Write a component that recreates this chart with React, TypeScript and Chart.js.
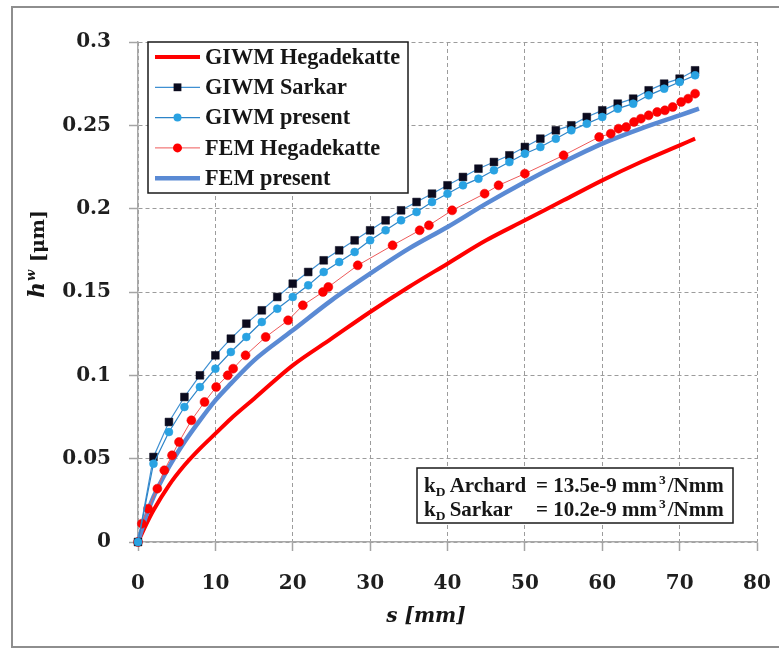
import React, { useEffect, useRef } from 'react';
import { Chart, registerables } from 'chart.js';

Chart.register(...registerables);

// ---------- data ----------
const giwmHegS = [0, 1, 2, 4, 6, 8, 10, 12, 15, 20, 25, 30, 35, 40, 45, 50, 55, 60, 65, 70, 72];
const giwmHegH = [0, 0.010, 0.019, 0.034, 0.046, 0.056, 0.065, 0.074, 0.086, 0.106, 0.122, 0.138, 0.153, 0.167, 0.181, 0.193, 0.205, 0.217, 0.228, 0.238, 0.242];

const giwmSarkarS = [0, 2, 4, 6, 8, 10, 12, 14, 16, 18, 20, 22, 24, 26, 28, 30, 32, 34, 36, 38, 40, 42, 44, 46, 48, 50, 52, 54, 56, 58, 60, 62, 64, 66, 68, 70, 72];
const giwmSarkarH = [0, 0.051, 0.072, 0.087, 0.100, 0.112, 0.122, 0.131, 0.139, 0.147, 0.155, 0.162, 0.169, 0.175, 0.181, 0.187, 0.193, 0.199, 0.204, 0.209, 0.214, 0.219, 0.224, 0.228, 0.232, 0.237, 0.242, 0.247, 0.250, 0.255, 0.259, 0.263, 0.266, 0.271, 0.275, 0.278, 0.283];

const giwmPresentS = [0, 2, 4, 6, 8, 10, 12, 14, 16, 18, 20, 22, 24, 26, 28, 30, 32, 34, 36, 38, 40, 42, 44, 46, 48, 50, 52, 54, 56, 58, 60, 62, 64, 66, 68, 70, 72];
const giwmPresentH = [0, 0.047, 0.066, 0.081, 0.093, 0.104, 0.114, 0.123, 0.132, 0.140, 0.147, 0.154, 0.162, 0.168, 0.174, 0.181, 0.187, 0.193, 0.198, 0.204, 0.209, 0.214, 0.218, 0.223, 0.228, 0.233, 0.237, 0.242, 0.247, 0.251, 0.255, 0.260, 0.263, 0.268, 0.272, 0.276, 0.280];

const femHegS = [0, 0.5, 1.3, 2.5, 3.4, 4.4, 5.3, 6.9, 8.6, 10.1, 11.6, 12.3, 13.9, 16.5, 19.4, 21.3, 23.9, 24.6, 28.4, 32.9, 36.4, 37.6, 40.6, 44.8, 46.6, 50.0, 55.0, 59.6, 61.1, 62.1, 63.1, 64.1, 65.0, 66.0, 67.1, 68.1, 69.1, 70.2, 71.1, 72.0];
const femHegH = [0, 0.011, 0.020, 0.032, 0.043, 0.052, 0.060, 0.073, 0.084, 0.093, 0.100, 0.104, 0.112, 0.123, 0.133, 0.142, 0.150, 0.153, 0.166, 0.178, 0.187, 0.190, 0.199, 0.209, 0.214, 0.221, 0.232, 0.243, 0.245, 0.248, 0.249, 0.252, 0.254, 0.256, 0.258, 0.259, 0.261, 0.264, 0.266, 0.269];

const femPresentS = [0, 1, 2, 4, 6, 8, 10, 12, 15, 20, 25, 30, 35, 40, 45, 50, 55, 60, 65, 70, 72.5];
const femPresentH = [0, 0.015, 0.027, 0.045, 0.060, 0.073, 0.085, 0.095, 0.109, 0.127, 0.145, 0.161, 0.176, 0.189, 0.203, 0.216, 0.228, 0.239, 0.248, 0.256, 0.260];

const seriesLabels = ['GIWM Hegadekatte', 'GIWM Sarkar', 'GIWM present', 'FEM Hegadekatte', 'FEM present'];
const xTickValues = [0, 10, 20, 30, 40, 50, 60, 70, 80];
const yTickValues = [0, 0.05, 0.1, 0.15, 0.2, 0.25, 0.3];
const annotationLines = [
  { name: ' Archard', value: ' 13.5e-9 mm' },
  { name: ' Sarkar', value: ' 10.2e-9 mm' },
];

const pts = (s: number[], h: number[]) => s.map((x, i) => ({ x, y: h[i] }));

const SERIF = '"DejaVu Serif"';
const LSERIF = '"Liberation Serif"';

const framePlugin = {
  id: 'frame',
  beforeDraw(chart: any) {
    const ctx = chart.ctx;
    ctx.save();
    ctx.fillStyle = '#ffffff';
    ctx.fillRect(0, 0, chart.width, chart.height);
    ctx.strokeStyle = '#8e8e8e';
    ctx.lineWidth = 2;
    ctx.strokeRect(12, 7, chart.width + 20, chart.height - 8);
    ctx.restore();
  },
};

const legendPlugin = {
  id: 'boxLegend',
  afterDatasetsDraw(chart: any) {
    const ctx = chart.ctx;
    const bx = 148, by = 42, bw = 260, bh = 151;
    ctx.save();
    ctx.fillStyle = '#ffffff';
    ctx.fillRect(bx, by, bw, bh);
    ctx.strokeStyle = '#1a1a1a';
    ctx.lineWidth = 1.5;
    ctx.strokeRect(bx, by, bw, bh);
    chart.data.datasets.forEach((ds: any, i: number) => {
      const y = 57 + i * 30.3;
      ctx.setLineDash([]);
      ctx.strokeStyle = ds.borderColor;
      ctx.lineWidth = ds.borderWidth;
      ctx.beginPath();
      ctx.moveTo(155, y);
      ctx.lineTo(200, y);
      ctx.stroke();
      if (ds.pointRadius > 0) {
        ctx.fillStyle = ds.pointBackgroundColor;
        if (ds.pointStyle === 'rect') {
          const side = ds.pointRadius * Math.SQRT2;
          ctx.fillRect(177.5 - side / 2, y - side / 2, side, side);
        } else {
          ctx.beginPath();
          ctx.arc(177.5, y, ds.pointRadius, 0, Math.PI * 2);
          ctx.fill();
        }
      }
      ctx.fillStyle = '#161616';
      ctx.font = `bold 22.3px ${LSERIF}`;
      ctx.textBaseline = 'middle';
      ctx.textAlign = 'left';
      ctx.fillText(ds.label, 205, y + 1);
    });
    ctx.restore();
  },
};

const annotationPlugin = {
  id: 'kdBox',
  afterDatasetsDraw(chart: any) {
    const ctx = chart.ctx;
    const bx = 417, by = 468, bw = 316, bh = 55;
    ctx.save();
    ctx.fillStyle = '#ffffff';
    ctx.fillRect(bx, by, bw, bh);
    ctx.strokeStyle = '#1a1a1a';
    ctx.lineWidth = 1.5;
    ctx.strokeRect(bx, by, bw, bh);
    ctx.fillStyle = '#161616';
    ctx.textBaseline = 'alphabetic';
    ctx.textAlign = 'left';
    const main = `bold 21px ${LSERIF}`;
    const small = `bold 13.5px ${LSERIF}`;
    annotationLines.forEach((ln, i) => {
      const base = 492 + i * 24;
      let x = 424;
      ctx.font = main;
      ctx.fillText('k', x, base);
      x += ctx.measureText('k').width;
      ctx.font = small;
      ctx.fillText('D', x, base + 4);
      x += ctx.measureText('D').width - 1;
      ctx.font = main;
      ctx.fillText(ln.name, x, base);
      x = 536;
      ctx.fillText('=' + ln.value, x, base);
      x += ctx.measureText('=' + ln.value).width + 2;
      ctx.font = small;
      ctx.fillText('3', x, base - 8);
      x += ctx.measureText('3').width + 2;
      ctx.font = main;
      ctx.fillText('/Nmm', x, base);
    });
    ctx.restore();
  },
};

const titlesPlugin = {
  id: 'axisTitles',
  afterDraw(chart: any) {
    const ctx = chart.ctx;
    ctx.save();
    ctx.fillStyle = '#161616';
    ctx.textBaseline = 'middle';
    ctx.textAlign = 'center';
    ctx.font = `italic bold 20px ${SERIF}`;
    ctx.fillText('s [mm]', 426, 617);

    // y title: h^w [μm]
    ctx.translate(36, 254);
    ctx.rotate(-Math.PI / 2);
    ctx.textAlign = 'left';
    ctx.textBaseline = 'alphabetic';
    const fH = `italic bold 22px ${SERIF}`;
    const fW = `italic bold 13px ${SERIF}`;
    const fU = `bold 19px ${SERIF}`;
    ctx.font = fH; const wH = ctx.measureText('h').width;
    ctx.font = fW; const wW = ctx.measureText('w').width;
    ctx.font = fU; const wU = ctx.measureText(' [μm]').width;
    let x = -(wH + wW + wU + 2) / 2;
    const base = 8;
    ctx.font = fH; ctx.fillText('h', x, base); x += wH + 1;
    ctx.font = fW; ctx.fillText('w', x, base - 9); x += wW + 1;
    ctx.font = fU; ctx.fillText(' [μm]', x, base);
    ctx.restore();
  },
};

export default function App() {
  const canvasRef = useRef<HTMLCanvasElement | null>(null);

  useEffect(() => {
    document.body.style.margin = '0';
    document.body.style.overflow = 'hidden';
    const canvas = canvasRef.current;
    if (!canvas) return;

    const gridCommon = {
      color: '#9c9c9c',
      lineWidth: 1,
      tickLength: 9,
      tickColor: '#a4a4a4',
      tickWidth: 1.5,
      tickBorderDash: [],
    };
    const borderCommon = {
      color: '#a8a8a8',
      width: 1.5,
      dash: [4, 3],
    };

    const chart = new Chart(canvas, {
      type: 'line',
      data: {
        datasets: [
          {
            label: seriesLabels[0],
            data: pts(giwmHegS, giwmHegH),
            borderColor: '#ff0000',
            backgroundColor: '#ff0000',
            borderWidth: 4,
            pointRadius: 0,
            cubicInterpolationMode: 'monotone',
            order: 5,
            clip: false,
          },
          {
            label: seriesLabels[1],
            data: pts(giwmSarkarS, giwmSarkarH),
            borderColor: '#3f90d2',
            backgroundColor: '#0b0b1e',
            borderWidth: 1.2,
            pointStyle: 'rect',
            pointRadius: 5.5,
            pointBackgroundColor: '#0b0b1e',
            pointBorderColor: '#0b0b1e',
            pointBorderWidth: 0.5,
            order: 2,
            clip: false,
          },
          {
            label: seriesLabels[2],
            data: pts(giwmPresentS, giwmPresentH),
            borderColor: '#2c84c8',
            backgroundColor: '#29a2e2',
            borderWidth: 1.2,
            pointStyle: 'circle',
            pointRadius: 4,
            pointBackgroundColor: '#29a2e2',
            pointBorderColor: '#29a2e2',
            pointBorderWidth: 0.5,
            order: 1,
            clip: false,
          },
          {
            label: seriesLabels[3],
            data: pts(femHegS, femHegH),
            borderColor: '#ee5a5a',
            backgroundColor: '#ff0000',
            borderWidth: 1,
            pointStyle: 'circle',
            pointRadius: 4.5,
            pointBackgroundColor: '#ff0000',
            pointBorderColor: '#ee0000',
            pointBorderWidth: 0.5,
            order: 3,
            clip: false,
          },
          {
            label: seriesLabels[4],
            data: pts(femPresentS, femPresentH),
            borderColor: '#5a8ad4',
            backgroundColor: '#5a8ad4',
            borderWidth: 4.5,
            pointRadius: 0,
            cubicInterpolationMode: 'monotone',
            order: 4,
            clip: false,
          },
        ],
      },
      options: {
        animation: false,
        responsive: true,
        maintainAspectRatio: false,
        layout: { padding: { top: 42, right: 22, left: 0, bottom: 0 } },
        plugins: {
          legend: { display: false },
          tooltip: { enabled: false },
          title: { display: false },
        },
        scales: {
          x: {
            type: 'linear',
            min: 0,
            max: 80,
            afterFit: (scale: any) => {
              scale.height = 106;
              scale.paddingLeft = 0;
              scale.paddingRight = 0;
            },
            afterBuildTicks: (scale: any) => { scale.ticks = xTickValues.map((v) => ({ value: v })); },
            ticks: {
              font: { family: 'DejaVu Serif', weight: 'bold', size: 20 },
              color: '#1e1e1e',
              padding: 21,
              maxRotation: 0,
              callback: (v: any) => String(v),
            },
            grid: gridCommon,
            border: borderCommon,
          },
          y: {
            type: 'linear',
            min: 0,
            max: 0.3,
            afterFit: (scale: any) => { scale.width = 138; },
            afterBuildTicks: (scale: any) => { scale.ticks = yTickValues.map((v) => ({ value: v })); },
            ticks: {
              font: { family: 'DejaVu Serif', weight: 'bold', size: 20 },
              color: '#1e1e1e',
              padding: 18,
              callback: (v: any) => String(Number(Number(v).toFixed(2))),
            },
            grid: gridCommon,
            border: borderCommon,
          },
        },
      },
      plugins: [framePlugin, legendPlugin, annotationPlugin, titlesPlugin],
    } as any);

    return () => chart.destroy();
  }, []);

  return (
    <div style={{ position: 'absolute', left: 0, top: 0, width: 779, height: 648 }}>
      <canvas ref={canvasRef} />
    </div>
  );
}
